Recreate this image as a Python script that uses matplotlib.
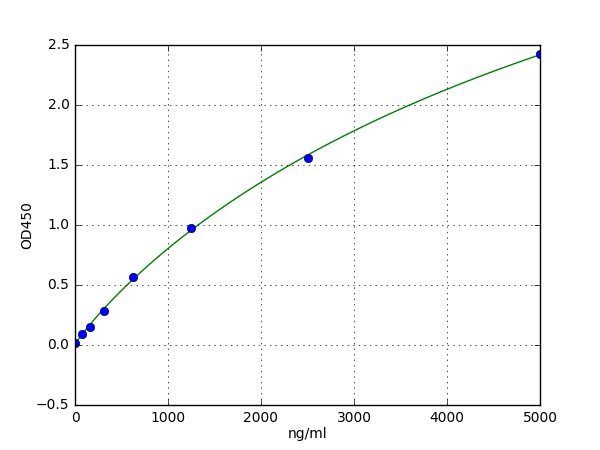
import numpy as np
import matplotlib
matplotlib.use("Agg")
import matplotlib.pyplot as plt

plt.style.use('classic')

conc = [0, 78, 156, 312, 625, 1250, 2500, 5000]
od = [0.015, 0.089, 0.153, 0.286, 0.564, 0.977, 1.562, 2.424]


def four_pl(x, p):
    a, b, c, d = p
    return d + (a - d) / (1.0 + (np.maximum(x, 0) / c) ** b)


def fit_4pl(x, y):
    x = np.asarray(x, float)
    y = np.asarray(y, float)
    p = np.array([y[0], 1.0, 5000.0, 5.0])
    lam = 1e-2
    for _ in range(500):
        r = y - four_pl(x, p)
        J = np.zeros((len(x), 4))
        for i in range(4):
            dp = np.zeros(4)
            dp[i] = 1e-6 * max(abs(p[i]), 1e-3)
            J[:, i] = (four_pl(x, p + dp) - four_pl(x, p)) / dp[i]
        A = J.T @ J
        g = J.T @ r
        step = np.linalg.solve(A + lam * np.diag(np.diag(A)), g)
        pn = p + step
        if pn[2] > 0 and pn[1] > 0 and np.sum((y - four_pl(x, pn)) ** 2) < np.sum(r ** 2):
            p = pn
            lam *= 0.5
        else:
            lam *= 4
    return p


params = fit_4pl(conc, od)

fig = plt.figure(figsize=(6, 4.5), dpi=100)
fig.patch.set_facecolor('white')
ax = fig.add_subplot(111)

xs = np.linspace(0, 5000, 400)
ax.plot(xs, four_pl(xs, params), color='g', linewidth=1)
ax.plot(conc, od, 'o', color='b', markersize=6, markeredgecolor='#000060', markeredgewidth=0.5)

ax.set_xlim(0, 5000)
ax.set_ylim(-0.5, 2.5)
ax.set_xticks([0, 1000, 2000, 3000, 4000, 5000])
ax.set_yticks([-0.5, 0.0, 0.5, 1.0, 1.5, 2.0, 2.5])
ax.grid(True, linestyle=':', color='k', linewidth=0.5)
ax.set_xlabel('ng/ml', fontsize=10, labelpad=2)
ax.set_ylabel('OD450', fontsize=10, labelpad=1)
ax.tick_params(labelsize=10)

fig.subplots_adjust(left=0.125, right=0.9, bottom=0.1, top=0.9)
fig.savefig('out.png', dpi=100, facecolor='white')
